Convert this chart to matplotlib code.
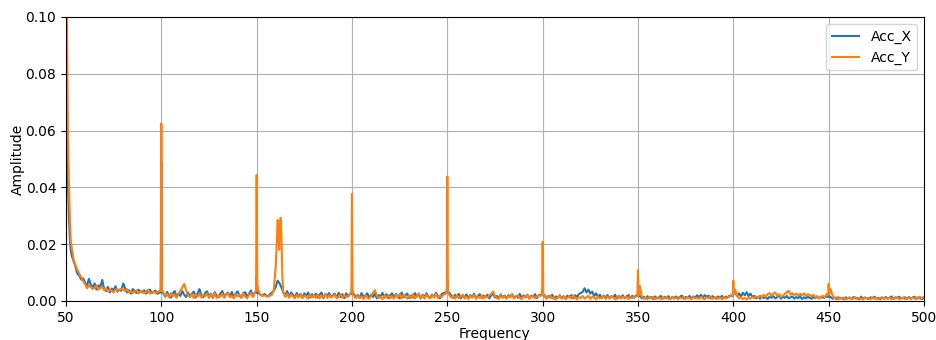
import numpy as np
import matplotlib
matplotlib.use("Agg")
import matplotlib.pyplot as plt

# Frequency grid (Hz) for the noise floor, 1 Hz steps from 50 to 500
freq_start, freq_stop = 50, 500

# Noise floor amplitudes in units of 1e-4
acc_x_base = [
    900, 420, 220, 160, 140, 120, 95, 90, 75, 80,
    65, 52, 78, 58, 47, 62, 40, 55, 48, 74,
    42, 35, 50, 30, 44, 38, 52, 33, 40, 36,
    62, 45, 30, 38, 26, 42, 35, 28, 40, 33,
    30, 38, 26, 34, 40, 28, 32, 36, 25, 30,
    45,
    28, 15, 32, 20, 12, 27, 35, 14, 26, 18,
    35, 22, 14, 30, 16, 26, 33, 12, 27, 42,
    20, 13, 29, 34, 15, 26, 11, 31, 19, 14,
    27, 35, 13, 25, 30, 15, 32, 12, 26, 34,
    18, 12, 28, 31, 14, 26, 37, 17, 30,
    30,
    28, 22, 18, 25, 20, 16, 24, 30, 35, 50,
    72, 62, 48, 30, 18, 35, 14, 30, 22, 12,
    28, 16, 25, 11, 27, 19, 30, 12, 24, 15,
    26, 12, 22, 30, 10, 25, 18, 28, 13, 21,
    26, 11, 29, 14, 24, 10, 27, 16, 25,
    35,
    25, 12, 22, 10, 28, 15, 19, 27, 11, 22,
    14, 26, 9, 21, 15, 29, 12, 24, 10, 20,
    27, 11, 25, 14, 9, 30, 13, 21, 26, 10,
    20, 12, 28, 15, 24, 9, 22, 13, 27, 16,
    11, 23, 14, 29, 18, 10, 24, 28, 30,
    40,
    30, 20, 11, 22, 13, 25, 9, 20, 12, 23,
    10, 21, 13, 26, 9, 18, 24, 11, 19, 14,
    22, 9, 20, 26, 12, 18, 10, 23, 13, 19,
    9, 21, 14, 24, 10, 17, 12, 25, 11, 20,
    13, 22, 9, 19, 14, 24, 10, 21, 22,
    28,
    20, 9, 18, 12, 22, 8, 16, 11, 20, 10,
    17, 8, 19, 12, 21, 9, 20, 15, 24, 28,
    32, 45, 30, 40, 26, 33, 18, 27, 14, 22,
    10, 19, 12, 21, 9, 17, 13, 22, 8, 18,
    11, 20, 9, 16, 21, 10, 18, 12, 20,
    22,
    18, 9, 15, 8, 17, 10, 14, 7, 16, 9,
    13, 18, 8, 15, 10, 17, 7, 14, 11, 16,
    9, 15, 19, 8, 14, 10, 18, 9, 16, 12,
    20, 13, 22, 11, 21, 14, 19, 9, 17, 12,
    8, 16, 11, 18, 9, 15, 12, 19, 18,
    25,
    28, 18, 27, 15, 29, 20, 31, 17, 26, 14,
    18, 9, 15, 8, 16, 10, 14, 7, 15, 11,
    17, 9, 14, 19, 8, 15, 11, 18, 9, 13,
    16, 8, 14, 10, 17, 7, 13, 9, 15, 11,
    8, 14, 10, 16, 9, 15, 11, 13, 16,
    18,
    14, 8, 12, 7, 13, 9, 11, 6, 13, 8,
    12, 7, 14, 9, 11, 6, 15, 8, 12, 10,
    7, 13, 9, 15, 8, 11, 6, 12, 9, 14,
    8, 12, 16, 7, 13, 10, 15, 8, 11, 13,
    7, 14, 9, 12, 15, 8, 11, 13, 7, 12,
]

acc_y_base = [
    1500, 600, 300, 190, 145, 125, 110, 95, 85, 70,
    60, 45, 55, 50, 42, 48, 55, 40, 46, 50,
    38, 45, 33, 40, 36, 30, 42, 35, 38, 44,
    40, 35, 42, 30, 36, 28, 33, 38, 27, 32,
    35, 28, 32, 40, 26, 30, 34, 27, 31, 36,
    40,
    30, 18, 25, 12, 28, 16, 22, 11, 27, 35,
    48, 60, 38, 20, 14, 24, 10, 23, 15, 26,
    12, 22, 17, 26, 11, 24, 14, 27, 10, 21,
    15, 25, 11, 22, 28, 13, 19, 9, 24, 16,
    23, 12, 26, 15, 10, 22, 28, 14, 28,
    60,
    35, 22, 18, 20, 17, 15, 19, 22, 40, 120,
    285, 240, 220, 30, 14, 25, 11, 23, 16, 9,
    21, 12, 24, 10, 19, 15, 8, 22, 13, 20,
    11, 23, 9, 18, 14, 25, 10, 20, 12, 17,
    22, 9, 16, 24, 11, 20, 13, 19, 24,
    40,
    18, 9, 21, 11, 16, 7, 20, 12, 8, 18,
    28, 38, 20, 10, 15, 7, 19, 12, 22, 9,
    16, 8, 21, 12, 25, 9, 22, 14, 8, 19,
    11, 24, 9, 17, 27, 12, 20, 8, 22, 13,
    9, 21, 12, 25, 10, 18, 14, 23, 25,
    40,
    22, 12, 18, 8, 20, 10, 16, 22, 9, 15,
    7, 19, 12, 21, 8, 16, 11, 20, 9, 17,
    12, 20, 25, 33, 18, 10, 7, 19, 11, 16,
    8, 18, 12, 22, 9, 15, 20, 10, 7, 17,
    12, 21, 8, 16, 19, 9, 14, 20, 18,
    30,
    16, 8, 14, 19, 9, 15, 6, 13, 18, 8,
    15, 7, 12, 17, 9, 20, 11, 6, 14, 10,
    18, 8, 13, 19, 7, 15, 11, 6, 16, 9,
    13, 18, 7, 15, 10, 17, 12, 6, 14, 19,
    8, 15, 11, 17, 7, 14, 10, 16, 16,
    20,
    53, 14, 8, 12, 6, 14, 9, 15, 7, 11,
    13, 6, 12, 9, 15, 7, 10, 14, 8, 12,
    6, 13, 9, 15, 7, 12, 10, 6, 14, 9,
    12, 7, 15, 9, 6, 13, 10, 16, 7, 11,
    14, 8, 12, 6, 15, 9, 13, 16, 20,
    25,
    40, 18, 9, 13, 7, 11, 6, 12, 8, 13,
    10, 16, 12, 19, 14, 22, 15, 24, 28, 18,
    26, 30, 18, 24, 14, 19, 25, 30, 36, 22,
    27, 21, 26, 19, 25, 20, 27, 18, 24, 21,
    16, 22, 12, 17, 10, 14, 18, 12, 25,
    25,
    42, 20, 9, 13, 6, 11, 8, 12, 6, 10,
    12, 6, 10, 13, 7, 11, 9, 5, 12, 8,
    10, 6, 13, 8, 12, 6, 10, 13, 7, 11,
    8, 12, 6, 11, 9, 13, 6, 10, 12, 7,
    10, 13, 6, 12, 8, 11, 14, 7, 12, 14,
]

# Sharp peaks (frequency in Hz, amplitude in units of 1e-4)
acc_x_peak_f = [50.5, 51.5, 52.5, 99.7, 100.0, 100.3, 149.7, 150.0, 150.3,
                199.7, 200.0, 200.3, 249.7, 250.0, 250.3, 299.7, 300.0, 300.3,
                349.7, 350.0, 350.3, 399.7, 400.0, 400.3, 449.7, 450.0, 450.3]
acc_x_peak_a = [600, 300, 180, 30, 490, 30, 30, 90, 28,
                25, 60, 25, 30, 70, 30, 22, 40, 20,
                18, 25, 18, 18, 30, 28, 14, 20, 14]

acc_y_peak_f = [50.5, 51.5, 52.5, 99.7, 100.0, 100.3, 149.7, 150.0, 150.3,
                160.5, 161.4, 161.8, 162.3, 162.6, 163.5,
                199.7, 200.0, 200.3, 249.7, 250.0, 250.3, 299.7, 300.0, 300.3,
                349.7, 350.0, 350.3, 399.7, 400.0, 400.3, 449.7, 450.0, 450.3]
acc_y_peak_a = [1000, 420, 210, 35, 625, 40, 35, 444, 60,
                200, 260, 180, 270, 293, 80,
                30, 377, 30, 30, 438, 35, 20, 208, 25,
                18, 109, 20, 20, 72, 25, 20, 60, 25]


def merge(base, peak_f, peak_a):
    grid = np.arange(freq_start, freq_stop + 1)
    pts = dict(zip(grid.astype(float), base))
    pts.update(zip(peak_f, peak_a))
    f = np.array(sorted(pts))
    a = np.array([pts[k] for k in f]) * 1e-4
    return f, a


fx, ax_vals = merge(acc_x_base, acc_x_peak_f, acc_x_peak_a)
fy, ay_vals = merge(acc_y_base, acc_y_peak_f, acc_y_peak_a)

fig = plt.figure(figsize=(9.37, 3.4), dpi=100)
ax = fig.add_axes([66 / 937, 1 - 301 / 340, (924 - 66) / 937, (301 - 17) / 340])
ax.plot(fx, ax_vals, label="Acc_X", color="C0", lw=1.5)
ax.plot(fy, ay_vals, label="Acc_Y", color="C1", lw=1.5)
ax.set_xlim(50, 500)
ax.set_ylim(0, 0.1)
ax.set_xlabel("Frequency", labelpad=1.5)
ax.set_ylabel("Amplitude", labelpad=0.5)
ax.grid(True)
ax.legend(loc="upper right")
fig.savefig("out.png", dpi=100)
